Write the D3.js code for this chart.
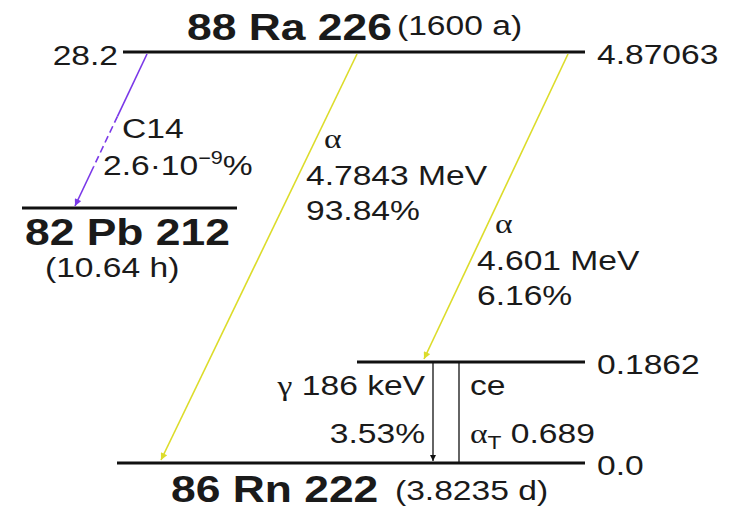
<!DOCTYPE html>
<html>
<head>
	<title>Ra 226 decay scheme</title>
	<script src="https://cdn.jsdelivr.net/npm/d3@7"></script>
	<style>
		body { margin: 0; background: #fff; }
		text { font-family: "Liberation Sans", Arial, sans-serif; fill: #1a1a1a; }
	</style>
</head>
<body>
	<script type="text/javascript">

		// data
		var nuclides = ["88 Ra 226", "82 Pb 212", "86 Rn 222"];
		var halfLives = ["(1600 a)", "(10.64 h)", "(3.8235 d)"];
		var levelEnergy = [4.87063, 0.1862, 0.0];          // MeV, Rn 222 side
		var levelLabels = ["4.87063", "0.1862", "0.0"];
		var clusterQ = 28.2;                                 // Ra -> Pb + C14
		var clusterLabels = ["C14", "2.6·10", "−9", "%"];
		var alphaTo = [0.0, 0.1862];
		var alphaEnergies = ["4.7843 MeV", "4.601 MeV"];
		var alphaIntensity = ["93.84%", "6.16%"];
		var gammaLabels = ["γ 186 keV", "3.53%"];
		var ceLabels = ["ce", "0.689"];

		var width = 730;
		var height = 513;
		var sx = 1.2;   // the picture's text is a bit wide

		// schematic energy scales (piecewise)
		var y = d3.scaleLinear()
			.domain([0, 0.1862, 4.87063])
			.range([463, 362, 52]);
		var yPb = d3.scaleLinear()
			.domain([0, clusterQ])
			.range([208, y(4.87063)]);

		var svg = d3.select("body").append("svg")
			.attr("width", width)
			.attr("height", height);

		var defs = svg.append("defs");
		function marker(id, col, w, l) {
			defs.append("marker")
				.attr("id", id)
				.attr("markerUnits", "userSpaceOnUse")
				.attr("viewBox", "0 -5 10 10")
				.attr("refX", 10).attr("refY", 0)
				.attr("markerWidth", l).attr("markerHeight", w)
				.attr("orient", "auto")
				.append("path")
				.attr("d", "M0,-5L10,0L0,5Z")
				.attr("fill", col);
		}
		marker("ay", "#dcdc2a", 7, 10);
		marker("ap", "#7a38e8", 7, 10);
		marker("ak", "#111", 6, 10);

		function label(x, yy, s, size, opt) {
			opt = opt || {};
			var t = svg.append("text")
				.attr("transform", "translate(" + x + "," + yy + ") scale(" + sx + ",1)")
				.attr("font-size", size)
				.attr("text-anchor", opt.anchor || "start")
				.text(s);
			if (opt.bold) t.attr("font-weight", "bold");
			if (opt.serif) t.style("font-family", "'Liberation Serif', 'DejaVu Serif', serif");
			return t;
		}

		// levels
		var levelX = [[123, 585], [357, 585], [117, 585]];
		svg.selectAll("line.level")
			.data(levelEnergy)
			.enter()
				.append("line")
				.attr("class", "level")
				.attr("x1", function (d, i) { return levelX[i][0]; })
				.attr("x2", function (d, i) { return levelX[i][1]; })
				.attr("y1", function (d) { return y(d); })
				.attr("y2", function (d) { return y(d); })
				.attr("stroke", "#111")
				.attr("stroke-width", 3);

		svg.append("line")
			.attr("x1", 22).attr("x2", 237)
			.attr("y1", yPb(0)).attr("y2", yPb(0))
			.attr("stroke", "#111")
			.attr("stroke-width", 3);

		levelEnergy.forEach(function (d, i) {
			label(597, y(d) + 12, levelLabels[i], 28);
		});
		label(118, yPb(clusterQ) + 13, String(clusterQ), 28, {anchor: "end"});

		// nuclide names
		label(187, y(4.87063) - 12, nuclides[0], 37, {bold: true});
		label(397, y(4.87063) - 17, halfLives[0], 28);
		label(25, yPb(0) + 37, nuclides[1], 37, {bold: true});
		label(45, yPb(0) + 69, halfLives[1], 28);
		label(171, y(0) + 39, nuclides[2], 37, {bold: true});
		label(395, y(0) + 37, halfLives[2], 28);

		// C14 cluster decay (solid - dashed - solid)
		var c0 = [147, yPb(clusterQ) + 2], c1 = [75, yPb(0) - 2];
		var ci = d3.interpolateArray(c0, c1);
		var segs = [[0, 0.41, null], [0.41, 0.74, "7,4"], [0.74, 1, null]];
		segs.forEach(function (s, i) {
			var a = ci(s[0]).slice(), b = ci(s[1]).slice();
			var ln = svg.append("line")
				.attr("x1", a[0]).attr("y1", a[1])
				.attr("x2", b[0]).attr("y2", b[1])
				.attr("stroke", "#7a38e8")
				.attr("stroke-width", 1.6);
			if (s[2]) ln.attr("stroke-dasharray", s[2]);
			if (i == 2) ln.attr("marker-end", "url(#ap)");
		});
		label(122, 138, clusterLabels[0], 28);
		var ct = label(103, 175, clusterLabels[1], 28);
		ct.append("tspan").attr("font-size", 18).attr("dy", -11).text(clusterLabels[2]);
		ct.append("tspan").attr("dy", 11).text(clusterLabels[3]);

		// alpha transitions
		var alphaX = [[357, 161], [568, 424]];
		svg.selectAll("line.alpha")
			.data(alphaTo)
			.enter()
				.append("line")
				.attr("class", "alpha")
				.attr("x1", function (d, i) { return alphaX[i][0]; })
				.attr("y1", y(4.87063) + 2)
				.attr("x2", function (d, i) { return alphaX[i][1]; })
				.attr("y2", function (d) { return y(d) - 3; })
				.attr("stroke", "#dcdc2a")
				.attr("stroke-width", 1.6)
				.attr("marker-end", "url(#ay)");

		var alphaLab = [[306, 148], [477, 233]];
		alphaTo.forEach(function (d, i) {
			var p = alphaLab[i];
			label(p[0] + 18, p[1], "α", 28, {serif: true});
			label(p[0], p[1] + 37, alphaEnergies[i], 28);
			label(p[0], p[1] + 72, alphaIntensity[i], 28);
		});

		// gamma and conversion electrons
		svg.append("line")
			.attr("x1", 433).attr("x2", 433)
			.attr("y1", y(0.1862) + 1).attr("y2", y(0) - 2)
			.attr("stroke", "#111")
			.attr("stroke-width", 1.3)
			.attr("marker-end", "url(#ak)");
		svg.append("line")
			.attr("x1", 459).attr("x2", 459)
			.attr("y1", y(0.1862)).attr("y2", y(0))
			.attr("stroke", "#111")
			.attr("stroke-width", 1.3);

		var gt = label(425, 395, "", 28, {anchor: "end"});
		gt.append("tspan").style("font-family", "'Liberation Serif', 'DejaVu Serif', serif").text("γ");
		gt.append("tspan").text(gammaLabels[0].slice(1));
		label(425, 443, gammaLabels[1], 28, {anchor: "end"});
		label(470, 395, ceLabels[0], 28);
		var at = label(470, 443, "", 28);
		at.append("tspan").style("font-family", "'Liberation Serif', 'DejaVu Serif', serif").text("α");
		at.append("tspan").attr("font-size", 19).attr("dy", 6).text("T");
		at.append("tspan").attr("dy", -6).text(" " + ceLabels[1]);

	</script>
</body>
</html>
